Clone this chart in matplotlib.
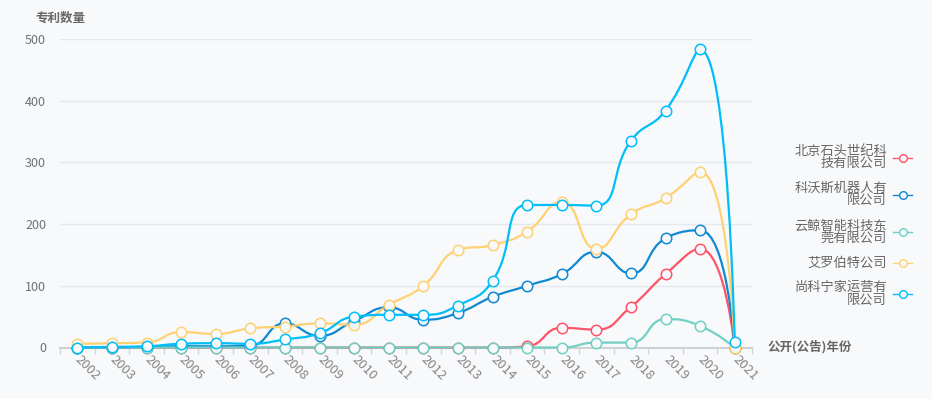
import numpy as np
import matplotlib
matplotlib.use("Agg")
import matplotlib.pyplot as plt
from matplotlib.path import Path
from matplotlib.patches import PathPatch
from matplotlib.lines import Line2D

plt.rcParams['font.family'] = ['Noto Sans CJK SC', 'DejaVu Sans']

# data
years = ['2002', '2003', '2004', '2005', '2006', '2007', '2008', '2009', '2010', '2011',
         '2012', '2013', '2014', '2015', '2016', '2017', '2018', '2019', '2020', '2021']
names = ['北京石头世纪科\n技有限公司', '科沃斯机器人有\n限公司', '云鲸智能科技东\n莞有限公司',
         '艾罗伯特公司', '尚科宁家运营有\n限公司']
shitou = [0, 0, 0, 0, 0, 0, 0, 0, 0, 0, 0, 0, 0, 2, 32, 29, 66, 119, 160, 0]
ecovacs = [0, 0, 1, 2, 2, 3, 39, 19, 43, 65, 45, 56, 82, 100, 119, 155, 120, 177, 190, 0]
yunjing = [0, 0, 0, 0, 0, 0, 0, 0, 0, 0, 0, 0, 0, 0, 0, 8, 8, 46, 35, 0]
irobot = [6, 7, 8, 25, 22, 31, 34, 39, 37, 69, 100, 158, 166, 188, 236, 160, 216, 242, 285, 0]
shark = [0, 1, 2, 6, 7, 6, 13, 23, 50, 53, 53, 68, 108, 231, 231, 230, 335, 384, 483, 9]
series = [shitou, ecovacs, yunjing, irobot, shark]
colors = ['#ff5368', '#1088d2', '#70d0c4', '#ffd173', '#00bef8']

bg = '#f8f9fb'
txt = '#6e7079'

W, H = 932, 399
fig = plt.figure(figsize=(W / 100, H / 100), dpi=100, facecolor=bg)
ax = fig.add_axes([60 / W, 1 - 347.5 / H, 692 / W, 308.5 / H], facecolor=bg)

n = len(years)
xs = np.arange(n)
ax.set_xlim(-0.5, n - 0.5)
ax.set_ylim(0, 500)

# pixel scale, used so the smoothing behaves like on screen
SX = 692 / n
SY = 308.5 / 500


def smooth_path(x, y, smooth=0.5):
    # echarts style bezier smoothing with clamped control points
    X = np.asarray(x, float) * SX
    Y = np.asarray(y, float) * SY
    m = len(X)
    cin = [(X[i], Y[i]) for i in range(m)]
    cout = [(X[i], Y[i]) for i in range(m)]
    for i in range(1, m - 1):
        px, py = X[i - 1], Y[i - 1]
        nx, ny = X[i + 1], Y[i + 1]
        cx, cy = X[i], Y[i]
        lp = np.hypot(cx - px, cy - py)
        ln = np.hypot(nx - cx, ny - cy)
        r = ln / (ln + lp)
        vx, vy = (nx - px) * smooth, (ny - py) * smooth
        ox, oy = cx + vx * r, cy + vy * r
        ox = min(max(ox, min(cx, nx)), max(cx, nx))
        oy = min(max(oy, min(cy, ny)), max(cy, ny))
        vx, vy = ox - cx, oy - cy
        ix, iy = cx - vx * lp / ln, cy - vy * lp / ln
        ix = min(max(ix, min(cx, px)), max(cx, px))
        iy = min(max(iy, min(cy, py)), max(cy, py))
        vx, vy = cx - ix, cy - iy
        ox, oy = cx + vx * ln / lp, cy + vy * ln / lp
        cin[i] = (ix, iy)
        cout[i] = (ox, oy)
    verts = [(X[0], Y[0])]
    codes = [Path.MOVETO]
    for i in range(m - 1):
        verts += [cout[i], cin[i + 1], (X[i + 1], Y[i + 1])]
        codes += [Path.CURVE4] * 3
    verts = [(a / SX, b / SY) for a, b in verts]
    return Path(verts, codes)


for vals, c in zip(series, colors):
    ax.add_patch(PathPatch(smooth_path(xs, vals), facecolor='none', edgecolor=c,
                           lw=1.6, zorder=3, clip_on=False, capstyle='round'))
    ax.plot(xs, vals, 'o', ms=7.5, mfc=bg, mec=c, mew=1.1, zorder=4, clip_on=False)

# grid / axes
ax.set_yticks([0, 100, 200, 300, 400, 500])
ax.grid(axis='y', color='#e6e8ee', lw=1)
ax.set_axisbelow(True)
for s in ['top', 'right', 'left']:
    ax.spines[s].set_visible(False)
ax.spines['bottom'].set_color('#cfd0d4')
ax.spines['bottom'].set_linewidth(1.5)
ax.tick_params(axis='y', length=0, pad=10, labelsize=9, labelcolor=txt)
ax.set_xticks(xs)
ax.set_xticklabels(years, rotation=-45, ha='left', va='center', rotation_mode='anchor')
ax.tick_params(axis='x', length=0, pad=7, labelsize=9.5, labelcolor='#858585')
ax.set_xticks(np.arange(n + 1) - 0.5, minor=True)
ax.tick_params(axis='x', which='minor', length=4, color='#d4d5d9', width=1)

fig.text(35 / W, 1 - 18 / H, '专利数量', ha='left', va='center', fontsize=9,
         color='#666666', fontweight='bold')
fig.text(768 / W, 1 - 347 / H, '公开(公告)年份', ha='left', va='center', fontsize=9,
         color='#666666', fontweight='bold')

# legend on the right
leg_y = [157.5, 194.5, 232, 263, 294]
for name, c, yy in zip(names, colors, leg_y):
    fig.text(887 / W, 1 - yy / H, name, ha='right', va='center', ma='right',
             fontsize=9.5, color='#666666', linespacing=0.95)
    fig.add_artist(Line2D([893 / W, 912 / W], [1 - yy / H] * 2, color=c, lw=1.0,
                          transform=fig.transFigure))
    fig.add_artist(Line2D([902.5 / W], [1 - yy / H], marker='o', ms=5.5, mfc=bg, mec=c,
                          mew=1.0, transform=fig.transFigure))

fig.savefig('out.png', dpi=100, facecolor=bg)
